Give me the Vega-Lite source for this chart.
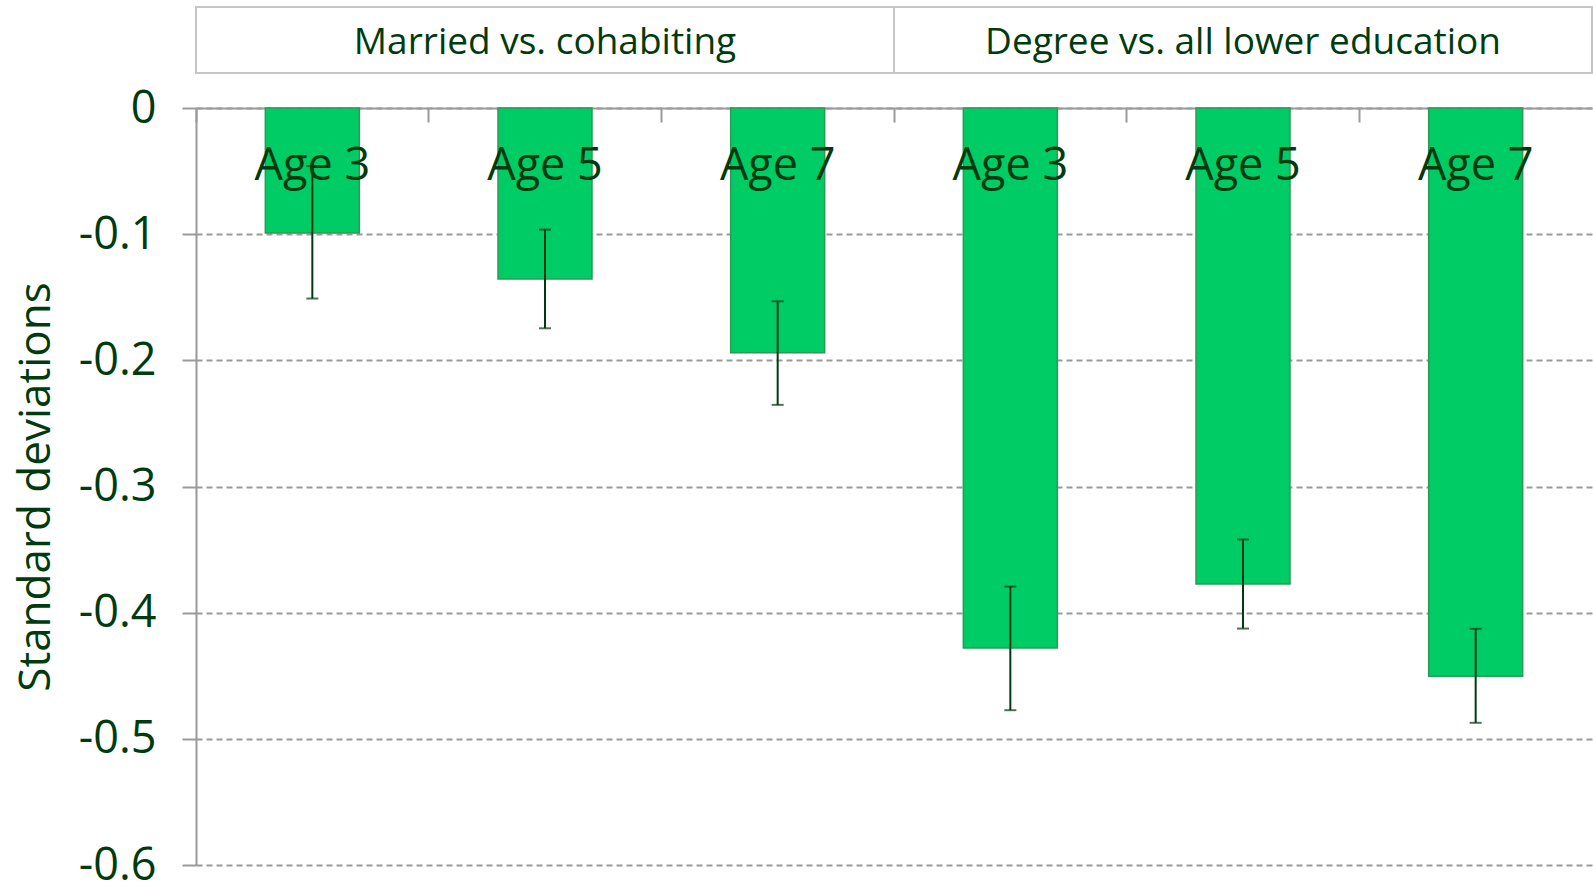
{
  "$schema": "https://vega.github.io/schema/vega-lite/v6.json",
  "padding": {"left": 14, "top": 6, "right": 0, "bottom": 0},
  "background": "white",
  "config": {
    "view": {"stroke": null},
    "font": "Open Sans",
    "axisY": {
      "tickCount": 6,
      "format": ".1~f",
      "labelExpr": "replace(datum.label, '−', '-')",
      "labelFontSize": 45, "labelColor": "#003b0f", "labelPadding": 26,
      "tickSize": 14, "tickWidth": 2, "tickColor": "#9a9a9a",
      "domainColor": "#9a9a9a", "domainWidth": 2,
      "grid": true, "gridColor": "#9a9a9a", "gridWidth": 2, "gridDash": [6, 4],
      "titleFontSize": 44, "titleFontWeight": "normal", "titleColor": "#003b0f", "titlePadding": 20
    }
  },
  "datasets": {
    "bars": [
      {"key": "M3", "group": "Married vs. cohabiting", "age": "Age 3", "value": -0.099, "lo": -0.151, "hi": -0.046},
      {"key": "M5", "group": "Married vs. cohabiting", "age": "Age 5", "value": -0.1355, "lo": -0.1746, "hi": -0.0964},
      {"key": "M7", "group": "Married vs. cohabiting", "age": "Age 7", "value": -0.194, "lo": -0.2353, "hi": -0.1532},
      {"key": "D3", "group": "Degree vs. all lower education", "age": "Age 3", "value": -0.428, "lo": -0.4773, "hi": -0.3793},
      {"key": "D5", "group": "Degree vs. all lower education", "age": "Age 5", "value": -0.3772, "lo": -0.4126, "hi": -0.342},
      {"key": "D7", "group": "Degree vs. all lower education", "age": "Age 7", "value": -0.4504, "lo": -0.4873, "hi": -0.4128}
    ],
    "groups": [
      {"group": "Married vs. cohabiting"},
      {"group": "Degree vs. all lower education"}
    ]
  },
  "bounds": "flush",
  "spacing": 35,
  "vconcat": [
    {
      "width": 1396,
      "height": 66,
      "data": {"name": "groups"},
      "encoding": {
        "x": {"field": "group", "type": "nominal", "sort": null, "scale": {"paddingInner": 0, "paddingOuter": 0}, "axis": null}
      },
      "layer": [
        {"mark": {"type": "rect", "fill": "white", "stroke": "#c6c6c6", "strokeWidth": 2}},
        {
          "mark": {"type": "text", "fontSize": 37, "color": "#003b0f", "baseline": "middle", "dy": 3},
          "encoding": {"text": {"field": "group"}}
        }
      ]
    },
    {
      "width": 1396,
      "height": 757,
      "data": {"name": "bars"},
      "encoding": {
        "x": {
          "field": "key", "type": "nominal", "sort": null,
          "scale": {"paddingInner": 0, "paddingOuter": 0},
          "axis": {
            "orient": "top", "labels": false, "title": null, "grid": false,
            "tickSize": -14, "tickWidth": 2, "tickColor": "#9a9a9a",
            "domainColor": "#9a9a9a", "domainWidth": 2, "bandPosition": 0
          }
        }
      },
      "layer": [
        {
          "mark": {"type": "bar", "color": "#00cc66", "stroke": "#2b9a55", "strokeWidth": 1.5, "width": {"band": 0.404}},
          "encoding": {
            "y": {
              "field": "value", "type": "quantitative", "title": "Standard deviations",
              "scale": {"domain": [-0.6, 0], "nice": false}
            }
          }
        },
        {
          "mark": {"type": "text", "fontSize": 45, "color": "#003b0f", "baseline": "alphabetic", "dy": 72},
          "encoding": {
            "y": {"datum": 0, "type": "quantitative", "title": "Standard deviations"},
            "text": {"field": "age"}
          }
        },
        {
          "mark": {"type": "rule", "color": "#003b0f", "strokeWidth": 2},
          "encoding": {
            "y": {"field": "lo", "type": "quantitative", "title": "Standard deviations"},
            "y2": {"field": "hi"}
          }
        },
        {
          "mark": {"type": "tick", "color": "#003b0f", "size": 12, "thickness": 2},
          "encoding": {"y": {"field": "lo", "type": "quantitative", "title": "Standard deviations"}}
        },
        {
          "mark": {"type": "tick", "color": "#003b0f", "size": 12, "thickness": 2},
          "encoding": {"y": {"field": "hi", "type": "quantitative", "title": "Standard deviations"}}
        }
      ]
    }
  ]
}
